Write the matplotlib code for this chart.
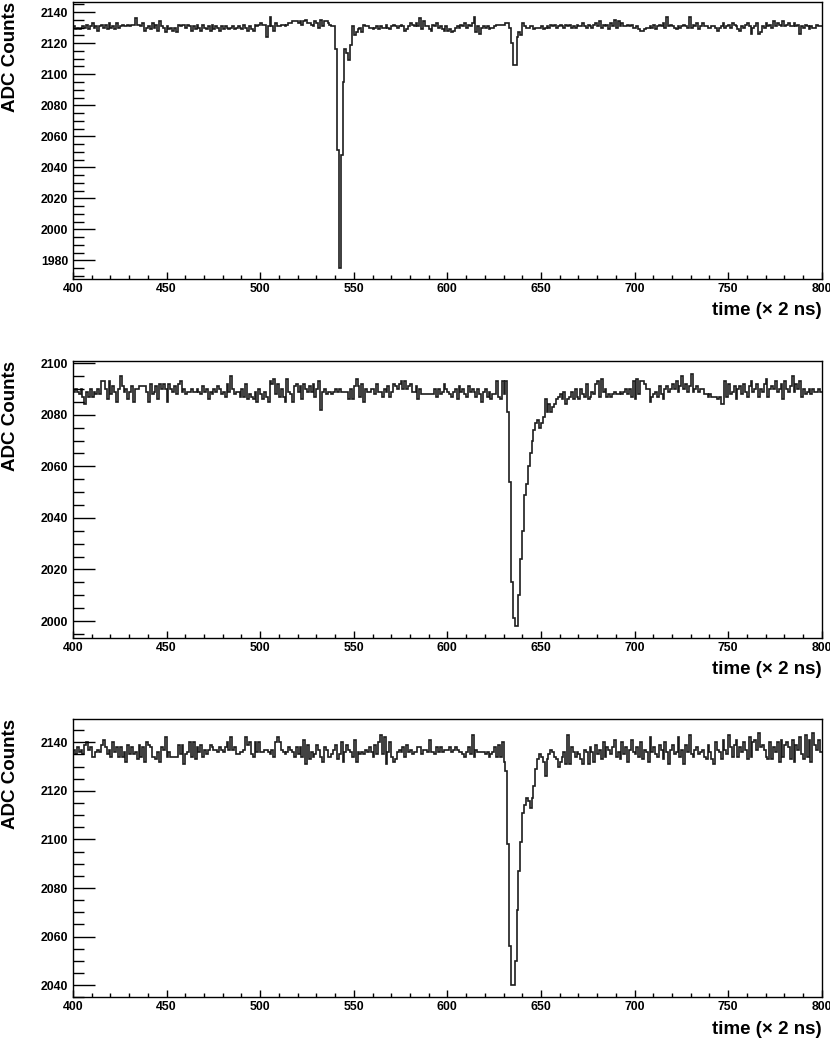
import numpy as np
import matplotlib.pyplot as plt
from matplotlib.ticker import MultipleLocator

plt.rcParams['font.family'] = ['Liberation Sans', 'DejaVu Sans']
plt.rcParams['font.weight'] = 'bold'

# one bin per sample, samples 400..799
bin_edges = np.arange(400, 801)

# ADC counts per sample, top panel
adc_top = [
    2131, 2129, 2130, 2129, 2130, 2131, 2130, 2132, 2129, 2131, 2133, 2130, 2131, 2128, 2131, 2132, 2130, 2132, 2129, 2133,
    2130, 2131, 2129, 2133, 2130, 2131, 2132, 2131, 2131, 2132, 2131, 2132, 2132, 2136, 2132, 2132, 2131, 2133, 2128, 2130,
    2131, 2129, 2133, 2130, 2132, 2128, 2134, 2131, 2130, 2127, 2131, 2129, 2130, 2128, 2130, 2127, 2132, 2131, 2132, 2132,
    2130, 2132, 2131, 2128, 2131, 2129, 2132, 2130, 2128, 2132, 2130, 2129, 2131, 2128, 2132, 2129, 2131, 2130, 2128, 2131,
    2129, 2131, 2130, 2129, 2130, 2131, 2129, 2130, 2131, 2130, 2129, 2132, 2130, 2128, 2131, 2129, 2128, 2132, 2131, 2132,
    2133, 2132, 2132, 2124, 2131, 2137, 2131, 2128, 2133, 2131, 2131, 2132, 2132, 2131, 2132, 2133, 2133, 2134, 2134, 2134,
    2133, 2134, 2132, 2134, 2135, 2133, 2133, 2132, 2131, 2134, 2133, 2130, 2135, 2131, 2134, 2134, 2133, 2132, 2131, 2131,
    2116, 2051, 1975, 2048, 2095, 2116, 2114, 2109, 2119, 2131, 2125, 2127, 2129, 2130, 2127, 2132, 2131, 2131, 2130, 2130,
    2129, 2130, 2131, 2129, 2131, 2130, 2130, 2132, 2130, 2129, 2131, 2132, 2131, 2130, 2131, 2132, 2131, 2128, 2129, 2131,
    2133, 2132, 2131, 2133, 2131, 2136, 2129, 2134, 2131, 2131, 2129, 2128, 2132, 2131, 2133, 2130, 2131, 2129, 2128, 2131,
    2128, 2129, 2127, 2128, 2130, 2131, 2130, 2132, 2131, 2133, 2130, 2132, 2131, 2133, 2137, 2127, 2131, 2126, 2130, 2131,
    2130, 2131, 2129, 2130, 2130, 2131, 2132, 2132, 2132, 2132, 2132, 2133, 2133, 2130, 2120, 2106, 2106, 2124, 2127, 2125,
    2133, 2131, 2130, 2130, 2131, 2131, 2129, 2130, 2130, 2130, 2131, 2129, 2130, 2131, 2130, 2132, 2131, 2132, 2130, 2131,
    2132, 2131, 2130, 2132, 2131, 2132, 2130, 2131, 2130, 2132, 2131, 2131, 2133, 2131, 2130, 2132, 2131, 2130, 2132, 2133,
    2131, 2134, 2130, 2132, 2131, 2132, 2129, 2133, 2131, 2135, 2130, 2134, 2131, 2133, 2131, 2131, 2132, 2131, 2132, 2130,
    2130, 2131, 2129, 2128, 2128, 2129, 2130, 2130, 2131, 2130, 2132, 2129, 2131, 2132, 2131, 2133, 2130, 2137, 2131, 2132,
    2131, 2130, 2129, 2131, 2130, 2131, 2132, 2131, 2130, 2137, 2130, 2132, 2131, 2133, 2129, 2131, 2133, 2131, 2131, 2130,
    2130, 2131, 2131, 2130, 2128, 2130, 2131, 2133, 2130, 2131, 2132, 2130, 2133, 2132, 2131, 2129, 2128, 2131, 2130, 2132,
    2133, 2131, 2126, 2130, 2131, 2133, 2126, 2127, 2131, 2130, 2133, 2131, 2132, 2130, 2134, 2131, 2133, 2132, 2131, 2134,
    2131, 2132, 2133, 2131, 2131, 2133, 2131, 2132, 2126, 2131, 2130, 2132, 2131, 2129, 2131, 2130, 2130, 2132, 2131, 2131,
]

# middle panel
adc_mid = [
    2089, 2090, 2089, 2088, 2090, 2087, 2084, 2089, 2087, 2090, 2087, 2089, 2088, 2090, 2088, 2093, 2093, 2090, 2086, 2093,
    2088, 2091, 2089, 2085, 2090, 2095, 2091, 2089, 2090, 2086, 2089, 2091, 2085, 2090, 2090, 2091, 2091, 2091, 2091, 2089,
    2085, 2092, 2088, 2089, 2091, 2086, 2092, 2090, 2092, 2090, 2085, 2092, 2090, 2089, 2091, 2088, 2092, 2093, 2089, 2090,
    2088, 2089, 2089, 2090, 2089, 2089, 2090, 2089, 2088, 2091, 2089, 2090, 2086, 2089, 2088, 2090, 2089, 2091, 2090, 2088,
    2089, 2087, 2092, 2089, 2095, 2090, 2088, 2089, 2089, 2087, 2090, 2087, 2092, 2086, 2088, 2087, 2086, 2089, 2085, 2090,
    2088, 2086, 2089, 2087, 2085, 2093, 2092, 2094, 2088, 2092, 2087, 2090, 2087, 2085, 2094, 2089, 2088, 2085, 2091, 2092,
    2089, 2091, 2086, 2092, 2090, 2089, 2091, 2089, 2092, 2087, 2090, 2093, 2082, 2089, 2090, 2088, 2089, 2089, 2088, 2089,
    2090, 2089, 2090, 2089, 2089, 2089, 2089, 2086, 2090, 2086, 2091, 2094, 2091, 2087, 2092, 2085, 2090, 2089, 2089, 2090,
    2090, 2088, 2092, 2089, 2089, 2087, 2090, 2089, 2091, 2087, 2089, 2092, 2091, 2090, 2092, 2093, 2090, 2093, 2090, 2091,
    2092, 2089, 2089, 2091, 2086, 2090, 2088, 2088, 2088, 2088, 2088, 2088, 2088, 2090, 2087, 2090, 2088, 2089, 2092, 2090,
    2089, 2088, 2087, 2089, 2090, 2086, 2091, 2089, 2090, 2088, 2087, 2091, 2089, 2090, 2089, 2087, 2090, 2088, 2085, 2089,
    2090, 2087, 2089, 2086, 2088, 2088, 2093, 2087, 2086, 2093, 2088, 2093, 2081, 2054, 2015, 2001, 1998, 1998, 2010, 2024,
    2035, 2049, 2053, 2060, 2065, 2070, 2074, 2077, 2078, 2075, 2077, 2079, 2086, 2081, 2084, 2081, 2083, 2084, 2086, 2087,
    2088, 2086, 2089, 2084, 2086, 2087, 2089, 2086, 2090, 2087, 2086, 2090, 2088, 2087, 2092, 2086, 2087, 2089, 2088, 2092,
    2093, 2087, 2094, 2089, 2090, 2087, 2088, 2087, 2088, 2089, 2088, 2088, 2089, 2088, 2089, 2090, 2088, 2090, 2087, 2093,
    2086, 2094, 2088, 2093, 2093, 2092, 2090, 2090, 2085, 2087, 2088, 2089, 2087, 2091, 2088, 2086, 2090, 2091, 2089, 2090,
    2092, 2090, 2093, 2089, 2091, 2095, 2090, 2092, 2089, 2091, 2096, 2089, 2090, 2091, 2089, 2090, 2090, 2088, 2088, 2087,
    2088, 2087, 2087, 2087, 2086, 2087, 2084, 2084, 2093, 2087, 2092, 2088, 2089, 2091, 2086, 2090, 2091, 2088, 2092, 2089,
    2087, 2091, 2093, 2089, 2090, 2092, 2087, 2090, 2089, 2092, 2094, 2087, 2090, 2091, 2090, 2093, 2089, 2090, 2092, 2086,
    2093, 2090, 2089, 2091, 2095, 2089, 2092, 2090, 2093, 2087, 2090, 2088, 2089, 2090, 2088, 2090, 2089, 2089, 2090, 2089,
]

# bottom panel
adc_bot = [
    2137, 2135, 2138, 2136, 2137, 2135, 2139, 2140, 2137, 2138, 2134, 2134, 2136, 2137, 2136, 2139, 2141, 2138, 2135, 2137,
    2134, 2140, 2136, 2138, 2134, 2138, 2134, 2136, 2132, 2139, 2135, 2138, 2135, 2136, 2133, 2139, 2134, 2138, 2132, 2140,
    2139, 2138, 2134, 2134, 2133, 2136, 2132, 2138, 2137, 2142, 2134, 2136, 2134, 2134, 2134, 2134, 2139, 2135, 2139, 2131,
    2135, 2136, 2140, 2134, 2140, 2133, 2138, 2136, 2139, 2134, 2137, 2135, 2137, 2139, 2138, 2137, 2137, 2136, 2138, 2137,
    2136, 2138, 2140, 2137, 2142, 2137, 2138, 2135, 2135, 2136, 2136, 2137, 2142, 2139, 2140, 2135, 2134, 2140, 2136, 2140,
    2136, 2136, 2137, 2137, 2136, 2135, 2137, 2134, 2140, 2142, 2140, 2137, 2136, 2135, 2136, 2138, 2137, 2136, 2134, 2138,
    2135, 2138, 2134, 2141, 2131, 2139, 2133, 2136, 2134, 2135, 2139, 2137, 2134, 2132, 2138, 2137, 2134, 2134, 2135, 2137,
    2139, 2133, 2135, 2140, 2132, 2136, 2139, 2137, 2136, 2134, 2141, 2132, 2136, 2135, 2136, 2135, 2137, 2136, 2138, 2136,
    2134, 2139, 2135, 2140, 2143, 2135, 2142, 2131, 2136, 2140, 2134, 2132, 2133, 2136, 2137, 2136, 2138, 2134, 2139, 2136,
    2137, 2135, 2136, 2136, 2138, 2138, 2135, 2137, 2137, 2136, 2141, 2136, 2136, 2135, 2138, 2136, 2138, 2136, 2137, 2137,
    2137, 2138, 2136, 2137, 2138, 2137, 2136, 2136, 2135, 2134, 2136, 2138, 2135, 2143, 2134, 2137, 2136, 2136, 2136, 2136,
    2135, 2136, 2134, 2135, 2136, 2138, 2134, 2139, 2134, 2140, 2132, 2128, 2098, 2056, 2040, 2040, 2050, 2071, 2087, 2099,
    2111, 2114, 2117, 2116, 2113, 2117, 2122, 2129, 2133, 2135, 2134, 2132, 2126, 2133, 2135, 2137, 2136, 2134, 2133, 2130,
    2132, 2134, 2136, 2131, 2143, 2131, 2138, 2136, 2134, 2136, 2135, 2133, 2131, 2137, 2136, 2131, 2138, 2136, 2132, 2139,
    2135, 2137, 2133, 2140, 2134, 2138, 2137, 2135, 2138, 2141, 2134, 2136, 2133, 2140, 2135, 2138, 2132, 2137, 2141, 2136,
    2135, 2138, 2134, 2140, 2133, 2137, 2136, 2132, 2142, 2136, 2138, 2135, 2134, 2139, 2137, 2133, 2140, 2136, 2131, 2137,
    2139, 2135, 2136, 2142, 2134, 2137, 2131, 2139, 2136, 2143, 2135, 2134, 2137, 2138, 2135, 2136, 2137, 2134, 2133, 2139,
    2136, 2133, 2131, 2140, 2137, 2136, 2133, 2141, 2137, 2135, 2143, 2138, 2134, 2139, 2141, 2134, 2138, 2136, 2140, 2137,
    2133, 2142, 2134, 2140, 2141, 2137, 2144, 2138, 2139, 2137, 2134, 2133, 2140, 2133, 2138, 2136, 2140, 2132, 2141, 2134,
    2139, 2140, 2138, 2133, 2141, 2132, 2139, 2137, 2142, 2135, 2133, 2143, 2134, 2141, 2132, 2144, 2139, 2137, 2141, 2136,
]

# y ranges of the three pads
ylims = [(1968, 2146.5), (1993.4, 2101), (2035, 2149.5)]
# pad positions (left, bottom, width, height) in figure fraction
pads = [
    (0.088, 0.7317, 0.902, 0.2663),
    (0.088, 0.3865, 0.902, 0.2667),
    (0.088, 0.0411, 0.902, 0.2673),
]


def draw_pad(fig, rect, counts, ylim):
    ax = fig.add_axes(rect)
    ax.stairs(counts, bin_edges, baseline=None, color='#1c1c1c', lw=1.2)
    ax.set_xlim(400, 800)
    ax.set_ylim(*ylim)

    ax.xaxis.set_major_locator(MultipleLocator(50))
    ax.xaxis.set_minor_locator(MultipleLocator(10))
    ax.yaxis.set_major_locator(MultipleLocator(20))
    ax.yaxis.set_minor_locator(MultipleLocator(5))

    ax.tick_params(axis='y', which='major', direction='in', length=16, width=1, pad=3.5)
    ax.tick_params(axis='y', which='minor', direction='in', length=8, width=1)
    ax.tick_params(axis='x', which='major', direction='in', length=5, width=1, pad=3)
    ax.tick_params(axis='x', which='minor', direction='in', length=3, width=1)
    ax.tick_params(labelsize=8.8)
    for sp in ax.spines.values():
        sp.set_linewidth(1.0)

    # ROOT style titles: y at the top, x at the right
    ax.text(-0.084, 1.0, 'ADC Counts', transform=ax.transAxes, rotation=90,
            ha='center', va='top', fontsize=13.5, fontweight='bold')
    ax.text(1.0, -0.115, 'time (\u00d7 2 ns)', transform=ax.transAxes,
            ha='right', va='center', fontsize=13.5, fontweight='bold')
    return ax


fig = plt.figure(figsize=(8.3, 10.4), dpi=100)
for rect, counts, ylim in zip(pads, [adc_top, adc_mid, adc_bot], ylims):
    draw_pad(fig, rect, counts, ylim)

fig.savefig('out.png', dpi=100)
